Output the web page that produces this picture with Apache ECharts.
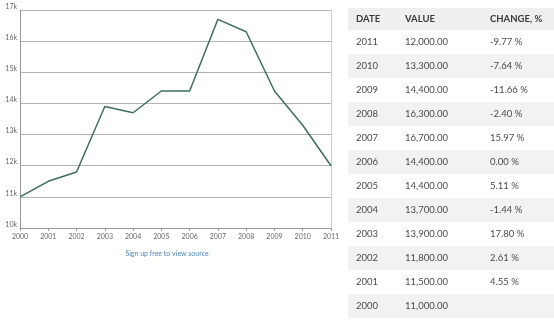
<!DOCTYPE html>
<html>
<head>
<meta charset="utf-8">
<script src="https://cdn.jsdelivr.net/npm/echarts@6/dist/echarts.min.js"></script>
<style>
  html, body { margin: 0; padding: 0; background: #fff; }
  #chart { width: 554px; height: 324px; }
</style>
</head>
<body>
<div id="chart"></div>
<script>
// Yearly values, 2000–2011
var years = ['2000', '2001', '2002', '2003', '2004', '2005', '2006', '2007', '2008', '2009', '2010', '2011'];
var values = [11000, 11500, 11800, 13900, 13700, 14400, 14400, 16700, 16300, 14400, 13300, 12000];
// Year-over-year change, same order as years (none for the first year)
var changes = ['', '4.55 %', '2.61 %', '17.80 %', '-1.44 %', '5.11 %', '0.00 %', '15.97 %', '-2.40 %', '-11.66 %', '-7.64 %', '-9.77 %'];
var tableHeaders = ['DATE', 'VALUE', 'CHANGE, %'];
var footnote = 'Sign up free to view source';

function fmtMoney(v) {
  var s = Math.round(v * 100) / 100;
  var parts = s.toFixed(2).split('.');
  parts[0] = parts[0].replace(/\B(?=(\d{3})+(?!\d))/g, ',');
  return parts.join('.');
}

var FONT = 'Lato, "Open Sans", sans-serif';
var TEXT = '#4a4a4a';

// Table on the right: header plus one row per year, newest first
var tableX = 348, tableW = 206, headY = 8, headH = 22, rowH = 24;
var colX = [356, 405, 490];
var gfx = [];
gfx.push({ type: 'rect', shape: { x: tableX, y: headY, width: tableW, height: headH }, style: { fill: '#efefef' }, silent: true });
tableHeaders.forEach(function (h, c) {
  gfx.push({ type: 'text', x: colX[c], y: headY + headH / 2, style: { text: h, fill: '#3a3a3a', font: 'bold 9.5px ' + FONT, textVerticalAlign: 'middle', verticalAlign: 'middle' }, silent: true });
});
for (var i = 0; i < years.length; i++) {
  var k = years.length - 1 - i;
  var y0 = headY + headH + rowH * i;
  gfx.push({ type: 'rect', shape: { x: tableX, y: y0, width: tableW, height: rowH }, style: { fill: i % 2 === 1 ? '#f2f2f2' : '#ffffff' }, silent: true });
  var cells = [years[k], fmtMoney(values[k]), changes[k]];
  cells.forEach(function (t, c) {
    gfx.push({ type: 'text', x: colX[c], y: y0 + rowH / 2, style: { text: t, fill: TEXT, font: '9.5px ' + FONT, textVerticalAlign: 'middle', verticalAlign: 'middle' }, silent: true });
  });
}
gfx.push({ type: 'text', x: 167, y: 254, style: { text: footnote, fill: '#4a86c5', font: '7px ' + FONT, textAlign: 'center', align: 'center', textVerticalAlign: 'middle', verticalAlign: 'middle' }, silent: true });

var chart = echarts.init(document.getElementById('chart'), null, { renderer: 'canvas' });
chart.setOption({
  animation: false,
  backgroundColor: '#fff',
  grid: { left: 20, top: 10, width: 311, height: 218, containLabel: false },
  xAxis: {
    type: 'category',
    data: years,
    boundaryGap: false,
    axisLine: { show: true, lineStyle: { color: '#999', width: 1 } },
    axisTick: { show: true, length: 3, lineStyle: { color: '#999' } },
    axisLabel: { color: '#666', fontSize: 7, fontFamily: FONT, margin: 5 },
    splitLine: { show: false }
  },
  yAxis: [{
    type: 'value',
    min: 10000,
    max: 17000,
    interval: 1000,
    axisLine: { show: true, lineStyle: { color: '#999', width: 1 } },
    axisTick: { show: false },
    axisLabel: {
      color: '#666', fontSize: 7, fontFamily: FONT, margin: 3,
      verticalAlign: 'bottom',
      formatter: function (v) { return (v / 1000) + 'k'; }
    },
    splitLine: { show: true, lineStyle: { color: '#b3b3b3', width: 1 } }
  }, {
    type: 'value',
    position: 'right',
    min: 10000,
    max: 17000,
    interval: 1000,
    axisLine: { show: true, lineStyle: { color: '#cccccc', width: 1 } },
    axisTick: { show: false },
    axisLabel: { show: false },
    splitLine: { show: false }
  }],
  series: [{
    type: 'line',
    data: values,
    yAxisIndex: 0,
    symbol: 'none',
    lineStyle: { color: '#3c6e5d', width: 1.5 },
    z: 5
  }],
  graphic: gfx
});
</script>
</body>
</html>
